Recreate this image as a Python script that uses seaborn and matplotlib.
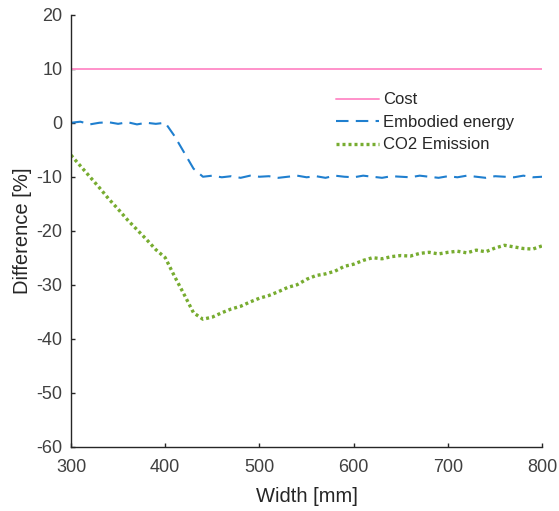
import numpy as np
import pandas as pd
import matplotlib
matplotlib.use("Agg")
import matplotlib.pyplot as plt
import seaborn as sns

width_mm = [300, 310, 320, 330, 340, 350, 360, 370, 380, 390,
            400, 410, 420, 430, 440, 450, 460, 470, 480, 490,
            500, 510, 520, 530, 540, 550, 560, 570, 580, 590,
            600, 610, 620, 630, 640, 650, 660, 670, 680, 690,
            700, 710, 720, 730, 740, 750, 760, 770, 780, 790, 800]

cost = [10.0] * len(width_mm)

embodied = [0.0, 0.2, -0.3, 0.0, 0.1, -0.2, 0.1, -0.3, 0.0, -0.2,
            0.0, -2.5, -5.5, -8.5, -10.0, -9.8, -10.1, -9.9, -10.2, -9.8,
            -10.0, -9.9, -10.2, -10.0, -9.8, -10.1, -9.9, -10.2, -9.8, -10.0,
            -10.1, -9.8, -10.0, -10.2, -9.9, -10.0, -10.1, -9.8, -10.0, -10.2,
            -9.9, -10.1, -9.8, -10.0, -10.2, -9.9, -10.0, -10.1, -9.8, -10.1, -10.0]

co2 = [-6.0, -8.0, -10.0, -12.0, -14.1, -16.0, -18.0, -19.8, -21.6, -23.5,
       -25.0, -28.5, -31.8, -35.2, -36.4, -36.0, -35.2, -34.5, -34.0, -33.2,
       -32.5, -32.0, -31.3, -30.5, -30.0, -29.0, -28.3, -28.0, -27.5, -26.6,
       -26.2, -25.5, -25.0, -25.2, -24.8, -24.6, -24.7, -24.2, -24.0, -24.3,
       -24.0, -23.8, -24.1, -23.6, -23.9, -23.2, -22.7, -23.0, -23.3, -23.4, -22.8]

x_ticks = [300, 400, 500, 600, 700, 800]
y_ticks = [-60, -50, -40, -30, -20, -10, 0, 10, 20]

sns.set_theme(style="white")
plt.rcParams['font.family'] = ['Liberation Sans', 'DejaVu Sans']
plt.rcParams['axes.unicode_minus'] = False

fig = plt.figure(figsize=(5.59, 5.11), dpi=100)
ax = fig.add_axes([0.127, 0.126, 0.843, 0.845])

df = pd.DataFrame({"Width": width_mm, "Cost": cost,
                   "Embodied energy": embodied, "CO2 Emission": co2})

sns.lineplot(data=df, x="Width", y="Cost", ax=ax, color="#ff92ca",
             linewidth=1.4, label="Cost")
sns.lineplot(data=df, x="Width", y="Embodied energy", ax=ax, color="#1f7fcf",
             linewidth=1.5, linestyle=(0, (6, 3.5)), label="Embodied energy")
sns.lineplot(data=df, x="Width", y="CO2 Emission", ax=ax, color="#77ac30",
             linewidth=2.4, linestyle=(0, (0.9, 0.9)), label="CO2 Emission")

ax.set_xlim(300, 800)
ax.set_ylim(-60, 20)
ax.set_xticks(x_ticks)
ax.set_yticks(y_ticks)
ax.tick_params(bottom=True, left=True, direction="in", length=3, width=1,
               labelsize=13, colors="#262626", labelcolor="#404040")
ax.tick_params(axis="y", pad=6)
ax.tick_params(axis="x", pad=9)
for s in ["top", "right"]:
    ax.spines[s].set_visible(False)
for s in ["left", "bottom"]:
    ax.spines[s].set_color("#262626")
    ax.spines[s].set_linewidth(1.0)
ax.set_xlabel("Width [mm]", fontsize=14.5, color="#262626", labelpad=8)
ax.set_ylabel("Difference [%]", fontsize=14.5, color="#262626", labelpad=3)

leg = ax.legend(loc="upper left", bbox_to_anchor=(0.53, 0.855), frameon=False,
                fontsize=12, handlelength=2.6, handletextpad=0.25,
                labelspacing=0.45)
for t in leg.get_texts():
    t.set_color("#262626")

fig.savefig("out.png", dpi=100)
